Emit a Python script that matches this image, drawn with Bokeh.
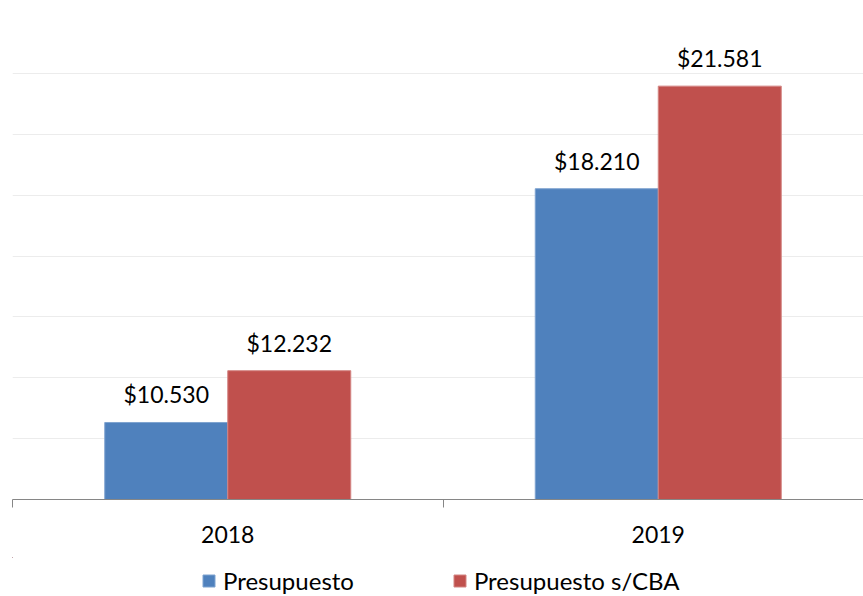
import numpy as np
from bokeh.plotting import figure
from bokeh.layouts import column
from bokeh.models import (ColumnDataSource, Range1d, FixedTicker, SingleIntervalTicker,
                          LabelSet, Legend, LegendItem)
from bokeh.core.properties import value
from bokeh.embed import file_html
from bokeh.resources import INLINE

# ---- data ----
years = ["2018", "2019"]
presupuesto = [10530, 18210]
presupuesto_cba = [12232, 21581]
series_names = ["Presupuesto", "Presupuesto s/CBA"]
colors = ["#4F81BD", "#C0504D"]
edge_colors = ["#7fa3d0", "#d38583"]
y_min, y_max, y_step = 8000, 24000, 2000

FONT = "Lato"
FS = "23px"
LEG_FS = "24px"


def fmt(v):
    return "$" + f"{v:,}".replace(",", ".")


n = len(years)
centers = np.arange(n) + 0.5
bw = 1 / 3.5  # Excel gap width 150%

W = 863
H1, H2 = 557, 39
left_b = 12
cat_px = 430.5
p = figure(width=W, height=H1, output_backend="svg", toolbar_location=None,
           x_range=Range1d(0, (W - left_b) / cat_px), y_range=Range1d(y_min, y_max),
           min_border_left=left_b, min_border_right=0, min_border_top=12,
           min_border_bottom=H1 - 12 - 487)
p.outline_line_color = None
p.background_fill_color = "white"

src1 = ColumnDataSource(dict(x=centers - bw / 2, top=presupuesto,
                             label=[fmt(v) for v in presupuesto]))
src2 = ColumnDataSource(dict(x=centers + bw / 2, top=presupuesto_cba,
                             label=[fmt(v) for v in presupuesto_cba]))
sources = [src1, src2]

renderers = []
for src, c, ec in zip(sources, colors, edge_colors):
    renderers.append(p.vbar(x="x", top="top", bottom=y_min, width=bw, source=src,
                            fill_color=c, line_color=ec, line_width=1))

for src in sources:
    p.add_layout(LabelSet(x="x", y="top", text="label", source=src,
                          text_align="center", text_baseline="alphabetic",
                          y_offset=19, text_font=value(FONT), text_font_size=FS,
                          text_color="#000000"))

# axes
p.yaxis.visible = False
ax = p.xaxis[0]
ax.ticker = FixedTicker(ticks=list(centers), minor_ticks=list(range(n + 1)))
ax.major_label_overrides = {float(c): y for c, y in zip(centers, years)}
ax.major_tick_out = 0
ax.major_tick_in = 0
ax.minor_tick_out = 8
ax.minor_tick_in = 0
ax.minor_tick_line_color = "#868686"
ax.axis_line_color = "#868686"
ax.major_label_standoff = 18
ax.major_label_text_font = FONT
ax.major_label_text_font_size = FS
ax.major_label_text_color = "#000000"

p.xgrid.visible = False
p.ygrid.ticker = SingleIntervalTicker(interval=y_step)
p.ygrid.grid_line_color = "#ececec"
p.ygrid.grid_line_width = 1

# ---- legend strip below the chart (same series; its view lies away from the bars) ----
p2 = figure(width=W, height=H2, output_backend="svg", toolbar_location=None,
            x_axis_type=None, y_axis_type=None, min_border=0,
            x_range=Range1d(100, 101), y_range=Range1d(0, 1))
p2.outline_line_color = None
p2.grid.visible = False
swatches = []
for src, c, ec in zip(sources, colors, edge_colors):
    swatches.append(p2.vbar(x="x", top="top", bottom=y_min, width=bw, source=src,
                            fill_color=c, line_color=ec))

leg = Legend(items=[LegendItem(label=name, renderers=[r], index=0)
                    for r, name in zip(swatches, series_names)],
             location=(189, 1), orientation="horizontal",
             padding=0, margin=0, spacing=98,
             glyph_width=15, glyph_height=15, label_standoff=7,
             label_text_font=FONT, label_text_font_size=LEG_FS,
             label_text_color="#000000", border_line_color=None,
             background_fill_alpha=0)
p2.add_layout(leg, "center")

layout = column(p, p2, spacing=0)
open("out.html", "w").write(file_html(layout, INLINE))
